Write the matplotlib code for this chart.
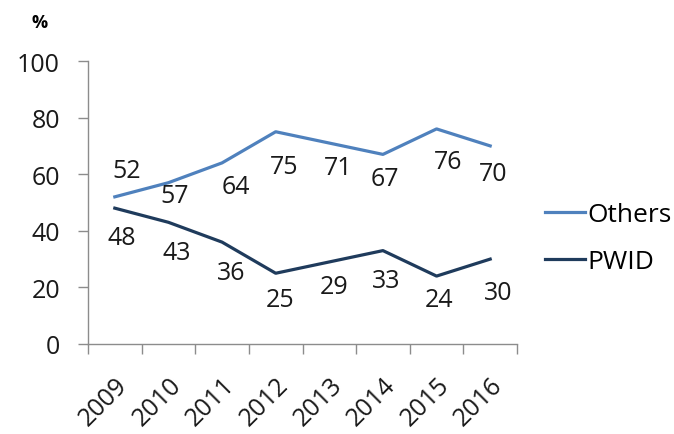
import matplotlib.pyplot as plt
import matplotlib.transforms as mtransforms
import numpy as np

years = ['2009', '2010', '2011', '2012', '2013', '2014', '2015', '2016']
others = [52, 57, 64, 75, 71, 67, 76, 70]
pwid = [48, 43, 36, 25, 29, 33, 24, 30]

# label offsets from each point, in pixels (x right, y up)
others_off = [(12, 26), (6, -13), (14, -24), (8, -35), (9, -24), (2, -24), (12, -33), (3, -28)]
pwid_off = [(7, -29), (8, -30), (9, -30), (4, -26), (5, -25), (3, -30), (2, -23), (8, -33)]

c_others = '#4f81bd'
c_pwid = '#1f3b5c'
axis_col = '#8c8c8c'
txt_col = '#1a1a1a'

plt.rcParams['font.family'] = ['Open Sans', 'DejaVu Sans']

fig = plt.figure(figsize=(6.74, 4.35), dpi=100)
ax = fig.add_axes([88 / 674, 90 / 435, 429 / 674, 283 / 435])

x = np.arange(len(years))
ax.plot(x, others, color=c_others, lw=2.3, label='Others')
ax.plot(x, pwid, color=c_pwid, lw=2.3, label='PWID')

for xi, v, off in zip(x, others, others_off):
    ax.annotate(str(v), (xi, v), xytext=off, textcoords='offset pixels',
                ha='center', va='center', fontsize=18, color=txt_col)
for xi, v, off in zip(x, pwid, pwid_off):
    ax.annotate(str(v), (xi, v), xytext=off, textcoords='offset pixels',
                ha='center', va='center', fontsize=18, color=txt_col)

ax.set_xlim(-0.5, len(years) - 0.5)
ax.set_ylim(0, 100)
ax.set_yticks(range(0, 101, 20))
ax.tick_params(axis='y', length=7.2, width=1, color=axis_col, labelsize=18, pad=13,
               labelcolor=txt_col)

# category labels at centres, tick marks at boundaries
ax.set_xticks(x)
ax.set_xticklabels(years, rotation=45, ha='right', rotation_mode='anchor')
ax.set_xticks(np.arange(-0.5, len(years)), minor=True)
ax.tick_params(axis='x', which='major', length=0, labelsize=18, pad=20, labelcolor=txt_col)
ax.tick_params(axis='x', which='minor', length=7.2, width=1, color=axis_col)
shift = mtransforms.ScaledTranslation(0, 0, fig.dpi_scale_trans)
for lbl in ax.get_xticklabels():
    lbl.set_transform(lbl.get_transform() + shift)

for s in ['top', 'right']:
    ax.spines[s].set_visible(False)
for s in ['left', 'bottom']:
    ax.spines[s].set_color(axis_col)
    ax.spines[s].set_linewidth(1)

fig.text(40 / 674, 1 - 23 / 435, '%', fontsize=13, fontweight='bold', ha='center', va='center')

ax.legend(loc='center left', bbox_to_anchor=(545 / 674, 1 - 239 / 435),
          bbox_transform=fig.transFigure, frameon=False, fontsize=19,
          handlelength=1.5, handletextpad=0.12, labelspacing=0.85,
          borderpad=0, borderaxespad=0)

fig.savefig('out.png', dpi=100)
